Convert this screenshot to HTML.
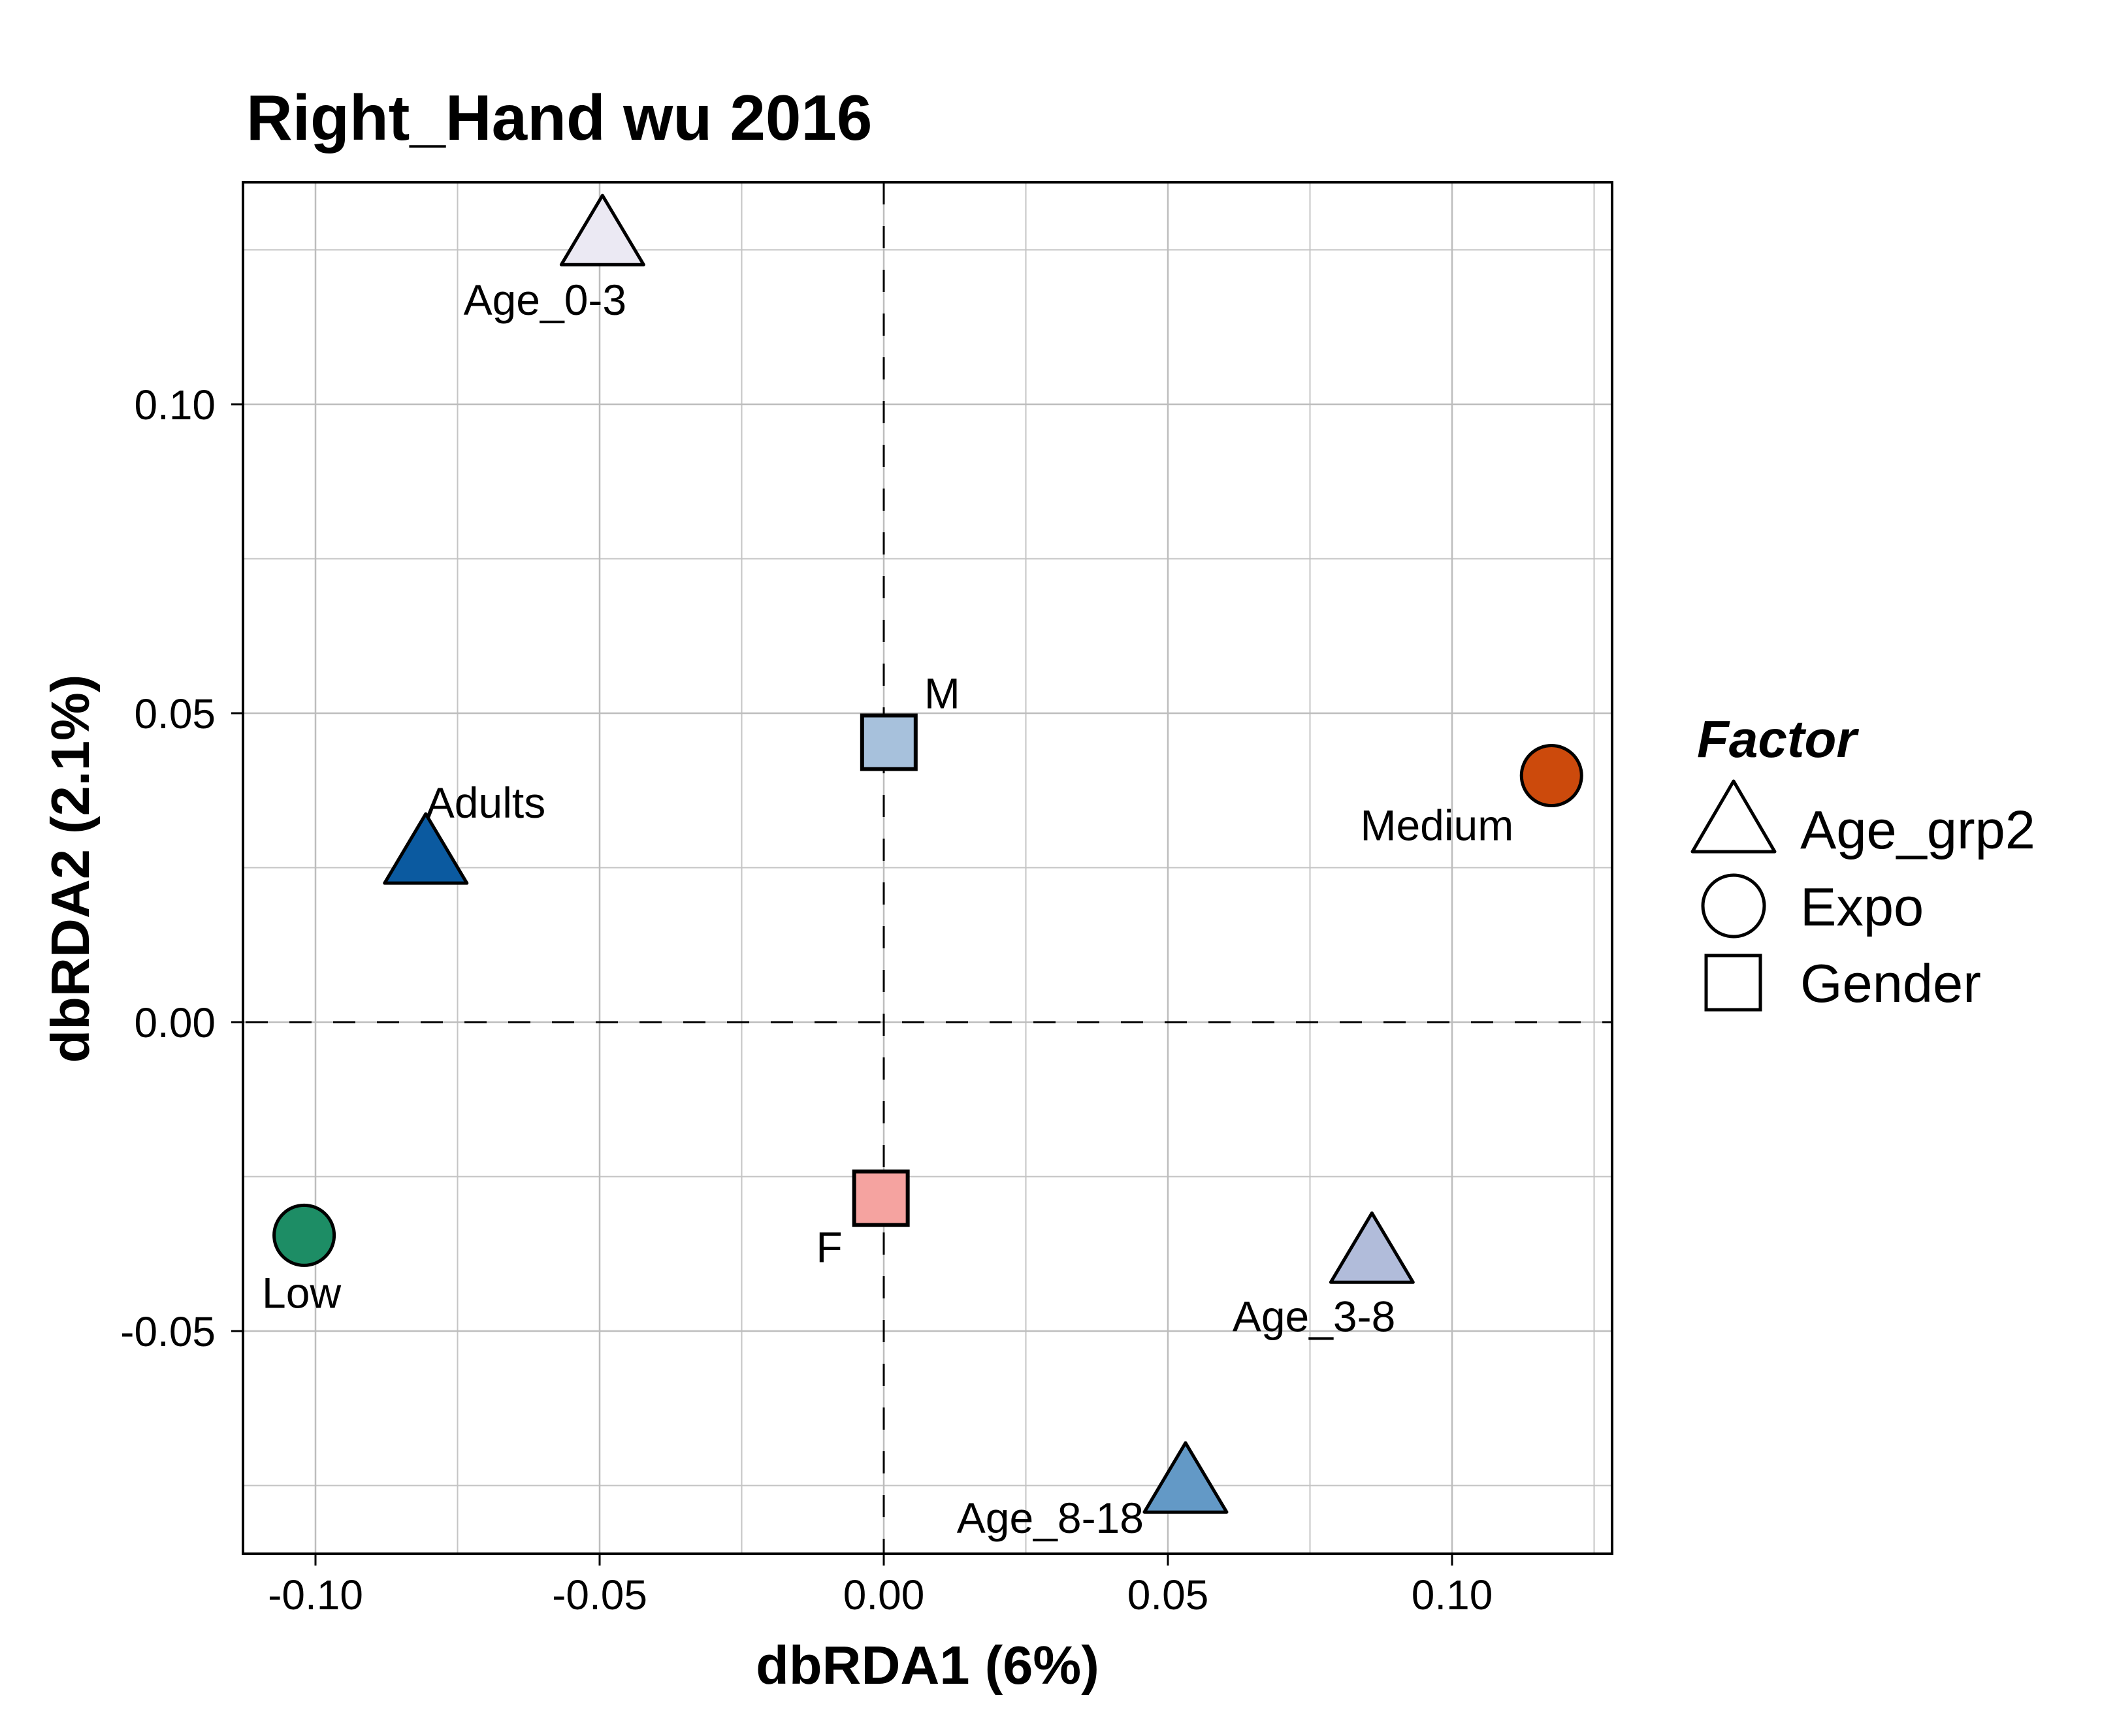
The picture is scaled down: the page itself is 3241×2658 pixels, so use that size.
<!DOCTYPE html>
<html><head><meta charset="utf-8"><style>
html,body{margin:0;padding:0;background:#fff;}
svg{display:block;font-family:"Liberation Sans",Arial,sans-serif;}
</style></head><body>
<svg id="chart" width="3241" height="2658" viewBox="0 0 3241 2658" xmlns="http://www.w3.org/2000/svg">
<rect x="0" y="0" width="3241" height="2658" fill="#fff"/>
<text x="377" y="214" font-size="98" font-weight="bold">Right_Hand wu 2016</text>
<g id="grid"></g>
<g id="refs"></g>
<g id="marks"></g>
<g id="labels"></g>
<rect x="372" y="279" width="2096" height="2100" fill="none" stroke="#000" stroke-width="4"/>
<g id="axes"></g>
<text x="1420" y="2578" font-size="83" font-weight="bold" text-anchor="middle">dbRDA1 (6%)</text>
<text transform="translate(136,1330) rotate(-90)" font-size="83" font-weight="bold" text-anchor="middle">dbRDA2 (2.1%)</text>
<g>
<text x="2598" y="1159" font-size="80" font-weight="bold" font-style="italic">Factor</text>
<g>
<polygon points="2654,1196 2717,1304 2591,1304" fill="#fff" stroke="#000" stroke-width="5" stroke-linejoin="round"/>
<text x="2756" y="1299" font-size="83">Age_grp2</text></g>
<g>
<circle cx="2654" cy="1387" r="47" fill="#fff" stroke="#000" stroke-width="5"/>
<text x="2756" y="1417" font-size="83">Expo</text></g>
<g>
<rect x="2612" y="1463" width="83" height="83" fill="#fff" stroke="#000" stroke-width="5"/>
<text x="2756" y="1534" font-size="83">Gender</text></g>
</g>
</svg>
<script>
const pointNames = ["Age_0-3","Adults","Age_3-8","Age_8-18","Low","Medium","M","F"];
const pointShapes = ["triangle","triangle","triangle","triangle","circle","circle","square","square"];
const xValues = [-0.0495,-0.0806,0.0859,0.0531,-0.1020,0.1175,0.0009,-0.0005];
const yValues = [0.1282,0.0281,-0.0365,-0.0737,-0.0345,0.0399,0.0453,-0.0285];
const pointColors = ["#ebe9f3","#0b5aa0","#b1bcda","#6399c6","#1d8d65","#cc4a0c","#a7c1dc","#f5a3a0"];
const xTicks = [-0.10,-0.05,0.00,0.05,0.10];
const yTicks = [-0.05,0.00,0.05,0.10];
const xMinor = [-0.075,-0.025,0.025,0.075,0.125];
const yMinor = [-0.075,-0.025,0.025,0.075,0.125];
// label offsets (style, px)
const labelDx = [-88,0,36,-64,-4,-58,54,-59];
const labelDy = [130,-47,128,85,111,99,-52,98];
const labelAnchor = ["middle","start","end","end","middle","end","start","end"];

const NS="http://www.w3.org/2000/svg";
const L=372,R=2468,T=279,B=2379;
const X0=1353,XS=8700,Y0=1565,YS=9460;
const sx=v=>X0+v*XS, sy=v=>Y0-v*YS;
function mk(tag,attrs,parent){const e=document.createElementNS(NS,tag);for(const k in attrs)e.setAttribute(k,attrs[k]);parent.appendChild(e);return e;}
const grid=document.getElementById('grid'),refs=document.getElementById('refs'),marks=document.getElementById('marks'),labels=document.getElementById('labels'),axes=document.getElementById('axes');
const fmt=v=>v.toFixed(2);
xMinor.forEach(v=>{const e=mk('line',{x1:sx(v),x2:sx(v),y1:T,y2:B,stroke:'#c4c4c4','stroke-width':2},grid);

});
yMinor.forEach(v=>{const e=mk('line',{x1:L,x2:R,y1:sy(v),y2:sy(v),stroke:'#c4c4c4','stroke-width':2},grid);

});
xTicks.forEach(v=>{const e=mk('line',{x1:sx(v),x2:sx(v),y1:T,y2:B,stroke:'#bdbdbd','stroke-width':2.5},grid);


const t=mk('line',{x1:sx(v),x2:sx(v),y1:B,y2:B+18,stroke:'#000','stroke-width':3},axes);


const tx=mk('text',{x:sx(v),y:2464,'font-size':64,'text-anchor':'middle'},axes);tx.textContent=fmt(v);

});
yTicks.forEach(v=>{const e=mk('line',{x1:L,x2:R,y1:sy(v),y2:sy(v),stroke:'#bdbdbd','stroke-width':2.5},grid);


const t=mk('line',{x1:L-18,x2:L,y1:sy(v),y2:sy(v),stroke:'#000','stroke-width':3},axes);


const tx=mk('text',{x:330,y:sy(v)+23,'font-size':64,'text-anchor':'end'},axes);tx.textContent=fmt(v);

});
const hv=mk('line',{x1:L,x2:R,y1:sy(0),y2:sy(0),stroke:'#000','stroke-width':3,'stroke-dasharray':'34,33','stroke-dashoffset':'-4'},refs);


const vv=mk('line',{x1:sx(0),x2:sx(0),y1:T,y2:B,stroke:'#000','stroke-width':3,'stroke-dasharray':'34,33'},refs);


pointNames.forEach((n,i)=>{const cx=sx(xValues[i]),cy=sy(yValues[i]);let e;
if(pointShapes[i]==='triangle'){e=mk('polygon',{points:`${cx},${cy-53} ${cx+63},${cy+53} ${cx-63},${cy+53}`,fill:pointColors[i],stroke:'#000','stroke-width':5,'stroke-linejoin':'round'},marks);}
else if(pointShapes[i]==='circle'){e=mk('circle',{cx:cx,cy:cy,r:46,fill:pointColors[i],stroke:'#000','stroke-width':5},marks);}
else{e=mk('rect',{x:cx-41,y:cy-41,width:82,height:82,fill:pointColors[i],stroke:'#000','stroke-width':6},marks);}


const t=mk('text',{x:cx+labelDx[i],y:cy+labelDy[i],'font-size':66,'text-anchor':labelAnchor[i]},labels);t.textContent=n;

});
</script>
</body></html>
